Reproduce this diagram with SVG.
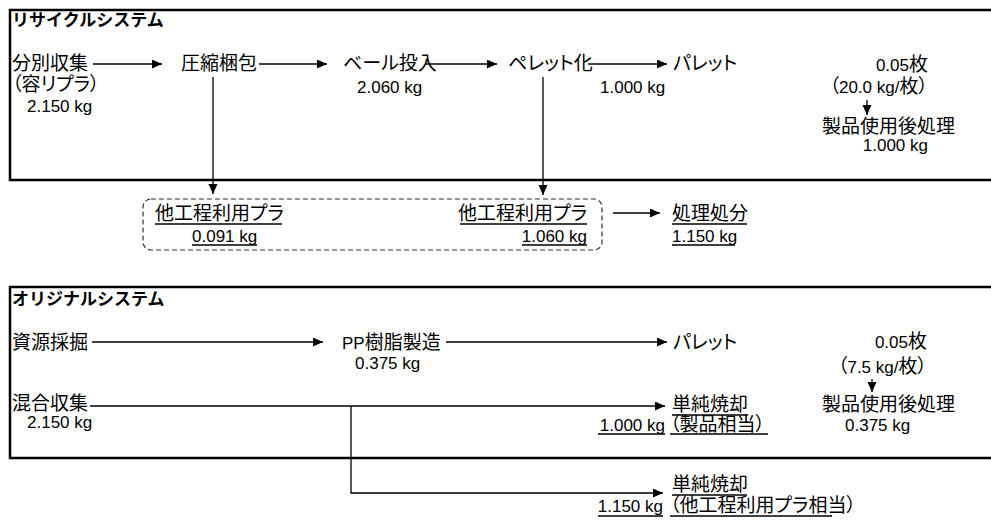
<svg xmlns="http://www.w3.org/2000/svg" width="991" height="523" viewBox="0 0 991 523">
<defs>
<style>
text{font-family:"Liberation Sans","Noto Sans CJK JP",sans-serif;fill:#000;font-feature-settings:"palt"}
.j{font-size:19px}
.n{font-size:17px}
.h{font-size:17px;font-weight:bold;font-feature-settings:normal}
.ln{stroke:#000;stroke-width:1.3;fill:none}
.ar{stroke:#000;stroke-width:1.3;fill:none;marker-end:url(#ah)}
.ul{stroke:#000;stroke-width:1.5}
.box{fill:#fff;stroke:#000;stroke-width:2.5}
</style>
<marker id="ah" markerUnits="userSpaceOnUse" markerWidth="11" markerHeight="10" refX="10" refY="4.5" orient="auto">
<path d="M0,0 L10,4.5 L0,9 z" fill="#000"/>
</marker>
</defs>
<rect width="991" height="523" fill="#fff"/>

<g id="recycle-system">
<rect class="box" x="10" y="10" width="995" height="170"/>
<text class="h" x="12" y="26">リサイクルシステム</text>
</g>

<g id="original-system">
<rect class="box" x="10" y="287" width="995" height="171"/>
<text class="h" x="12" y="305">オリジナルシステム</text>
</g>

<g id="connectors">
<line class="ar" x1="93" y1="64" x2="162" y2="64"/>
<line class="ar" x1="259" y1="64" x2="327" y2="64"/>
<line class="ar" x1="425" y1="64" x2="497" y2="64"/>
<line class="ar" x1="588" y1="64" x2="667" y2="64"/>
<line class="ar" x1="867" y1="100" x2="867" y2="115"/>
<line class="ar" x1="213" y1="77" x2="213" y2="194"/>
<line class="ar" x1="543" y1="77" x2="543" y2="195"/>
<line class="ar" x1="613" y1="213" x2="660" y2="213"/>
<line class="ar" x1="92" y1="342" x2="323" y2="342"/>
<line class="ar" x1="446" y1="342" x2="667" y2="342"/>
<line class="ar" x1="872" y1="379" x2="872" y2="392"/>
<line class="ar" x1="90" y1="406" x2="665" y2="406"/>
<polyline class="ar" points="351,406 351,493 663,493"/>
</g>

<g id="bunbetsu">
<text class="j" x="12" y="70">分別収集</text>
<text class="j" x="12" y="91">（容リプラ）</text>
<text class="n" x="27" y="112">2.150 kg</text>
</g>
<g id="asshuku">
<text class="j" x="181" y="70">圧縮梱包</text>
</g>
<g id="bale">
<text class="j" x="343" y="70">ベール投入</text>
<text class="n" x="357" y="93">2.060 kg</text>
</g>
<g id="pellet-ka">
<text class="j" x="508" y="70">ペレット化</text>
</g>
<g id="pallet-r">
<text class="j" x="673" y="70">パレット</text>
<text class="n" x="600" y="93">1.000 kg</text>
</g>
<g id="after-use-r">
<text x="928" y="71" text-anchor="end"><tspan class="n">0.05</tspan><tspan class="j">枚</tspan></text>
<text x="928" y="93" text-anchor="end"><tspan class="j">（</tspan><tspan class="n">20.0 kg/</tspan><tspan class="j">枚）</tspan></text>
<text class="j" x="822" y="133">製品使用後処理</text>
<text class="n" x="928" y="151" text-anchor="end">1.000 kg</text>
</g>

<g id="other-use">
<rect x="143" y="199" width="459" height="51" rx="8" fill="none" stroke="#333" stroke-width="1.2" stroke-dasharray="5 3"/>
<text class="j" x="155" y="220">他工程利用プラ</text>
<line class="ul" x1="155" y1="224" x2="282" y2="224"/>
<text class="n" x="192" y="242">0.091 kg</text>
<line class="ul" x1="192" y1="245" x2="257" y2="245"/>
<text class="j" x="587" y="220" text-anchor="end">他工程利用プラ</text>
<line class="ul" x1="460" y1="224" x2="587" y2="224"/>
<text class="n" x="587" y="242" text-anchor="end">1.060 kg</text>
<line class="ul" x1="522" y1="245" x2="587" y2="245"/>
</g>
<g id="shori">
<text class="j" x="672" y="220">処理処分</text>
<line class="ul" x1="672" y1="224" x2="747" y2="224"/>
<text class="n" x="672" y="242">1.150 kg</text>
<line class="ul" x1="672" y1="245" x2="735" y2="245"/>
</g>

<g id="shigen">
<text class="j" x="12" y="349">資源採掘</text>
</g>
<g id="pp">
<text x="342" y="349"><tspan class="n">PP</tspan><tspan class="j">樹脂製造</tspan></text>
<text class="n" x="355" y="369">0.375 kg</text>
</g>
<g id="pallet-o">
<text class="j" x="673" y="349">パレット</text>
</g>
<g id="after-use-o">
<text x="927" y="348" text-anchor="end"><tspan class="n">0.05</tspan><tspan class="j">枚</tspan></text>
<text x="927" y="373" text-anchor="end"><tspan class="j">（</tspan><tspan class="n">7.5 kg/</tspan><tspan class="j">枚）</tspan></text>
<text class="j" x="822" y="411">製品使用後処理</text>
<text class="n" x="845" y="431">0.375 kg</text>
</g>
<g id="kongou">
<text class="j" x="12" y="410">混合収集</text>
<text class="n" x="27" y="428">2.150 kg</text>
</g>
<g id="shoukyaku1">
<text class="j" x="672" y="411">単純焼却</text>
<line class="ul" x1="672" y1="415" x2="748" y2="415"/>
<text class="n" x="665" y="431" text-anchor="end">1.000 kg</text>
<line class="ul" x1="598" y1="434" x2="665" y2="434"/>
<text class="j" x="670" y="431">（製品相当）</text>
<line class="ul" x1="670" y1="434" x2="768" y2="434"/>
</g>
<g id="shoukyaku2">
<text class="j" x="672" y="491">単純焼却</text>
<line class="ul" x1="672" y1="495" x2="747" y2="495"/>
<text class="n" x="663" y="512" text-anchor="end">1.150 kg</text>
<line class="ul" x1="598" y1="516" x2="663" y2="516"/>
<text class="j" x="670" y="512">（他工程利用プラ相当）</text>
<line class="ul" x1="670" y1="516" x2="832" y2="516"/>
</g>
</svg>
